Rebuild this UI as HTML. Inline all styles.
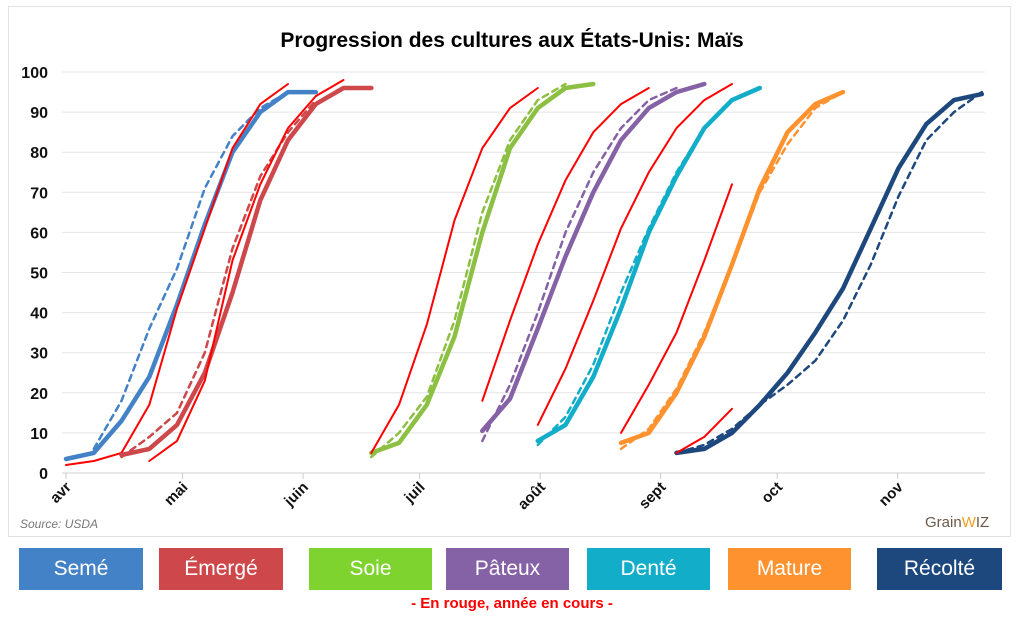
<!DOCTYPE html>
<html><head><meta charset="utf-8"><style>
body{margin:0;background:#fff;width:1024px;height:621px;overflow:hidden;font-family:"Liberation Sans",sans-serif}
#card{position:absolute;left:8px;top:6px;width:1003px;height:531px;border:1px solid #e2e2e2;box-sizing:border-box}
.lg{position:absolute;top:548px;height:42px;color:#fff;font-size:21px;display:flex;align-items:center;justify-content:center;font-family:"Liberation Sans Narrow","Liberation Sans",sans-serif}
</style></head><body>
<div id="card"></div>
<svg id="chart" width="1024" height="540" style="position:absolute;left:0;top:0">
<text x="512" y="47" text-anchor="middle" font-size="21" font-weight="bold" fill="#000">Progression des cultures aux États-Unis: Maïs</text>
<g id="grid"></g><g id="series"></g>
<text x="20" y="528" font-size="12" font-style="italic" fill="#777">Source: USDA</text>
<text x="925" y="527" font-size="15" fill="#6b5a48">Grain<tspan fill="#f0a020">W</tspan>IZ</text>
</svg>
<div class="lg" style="left:19px;width:124px;background:#4382c6">Semé</div>
<div class="lg" style="left:159px;width:124px;background:#cd474b">Émergé</div>
<div class="lg" style="left:309px;width:123px;background:#7ed32f">Soie</div>
<div class="lg" style="left:446px;width:123px;background:#8561a5">Pâteux</div>
<div class="lg" style="left:587px;width:123px;background:#12adc8">Denté</div>
<div class="lg" style="left:728px;width:123px;background:#fd922f">Mature</div>
<div class="lg" style="left:877px;width:125px;background:#1d487e">Récolté</div>
<div style="position:absolute;top:595px;left:0;width:1024px;text-align:center;color:#f00;font-size:15px;font-weight:bold">- En rouge, année en cours -</div>
<script>
const yTicks=[0,10,20,30,40,50,60,70,80,90,100];
const months=["avr","mai","juin","juil","août","sept","oct","nov"];
const monthDays=[0,30,61,91,122,153,183,214];
// weekly series: start week index (from Apr 1) and values
const semeStart=0, semeVals=[3.5,5,13,24,42,62,80,90,95,95];
const semeAvgStart=1, semeAvgVals=[6,18,36,51,71,84,91,95];
const semeCurStart=0, semeCurVals=[2,3,5,17,41,61,81,92,97];
const emStart=2, emVals=[4.5,6,12,25,45,68,83,92,96,96];
const emAvgStart=2, emAvgVals=[4,9,15,30,56,74,85,93];
const emCurStart=3, emCurVals=[3,8,23,53,72,86,94,98];
const soStart=11, soVals=[5,7.5,17,34,60,81,91,96,97];
const soAvgStart=11, soAvgVals=[4,10,19,38,65,83,93,97];
const soCurStart=11, soCurVals=[5,17,37,63,81,91,96];
const paStart=15, paVals=[10.5,18.5,36,54,70,83,91,95,97];
const paAvgStart=15, paAvgVals=[8,22,40,60,75,86,93,96];
const paCurStart=15, paCurVals=[18,38,57,73,85,92,96];
const deStart=17, deVals=[8,12,24,41,60,74,86,93,96];
const deAvgStart=17, deAvgVals=[7,14,27,45,61,75,86];
const deCurStart=17, deCurVals=[12,26,43,61,75,86,93,97];
const maStart=20, maVals=[7.5,10,20,34,52,71,85,92,95];
const maAvgStart=20, maAvgVals=[6,11,21,35,52,70,82,91,95];
const maCurStart=20, maCurVals=[10,22,35,53,72];
const reStart=22, reVals=[5,6,10,17,25,35,46,61,76,87,93,94.5];
const reAvgStart=22, reAvgVals=[5,7,11,17,22,28,38,52,69,83,90,95];
const reCurStart=22, reCurVals=[5,9,16];

const X0=66, WK=27.75;
const xW=w=>X0+w*WK;
const xD=d=>X0+d*WK/7.14;
const yV=v=>473-v*4.01;
const NS="http://www.w3.org/2000/svg";
const grid=document.getElementById('grid'), ser=document.getElementById('series');
function mk(tag,attrs,parent){const e=document.createElementNS(NS,tag);for(const k in attrs)e.setAttribute(k,attrs[k]);parent.appendChild(e);return e;}
yTicks.forEach(v=>{
  const l=mk('line',{x1:62,x2:985,y1:yV(v),y2:yV(v),stroke:v===0?'#d0d0d0':'#e4e4e4','stroke-width':1},grid);
  
  
  const t=mk('text',{x:48,y:yV(v)+6,'text-anchor':'end','font-size':16,'font-weight':'bold',fill:'#111'},grid);
  t.textContent=v;
  
  
});
months.forEach((m,i)=>{
  const x=xD(monthDays[i]);
  const tk=mk('line',{x1:x,x2:x,y1:473,y2:479,stroke:'#ccc'},grid);
  
  
  const t=mk('text',{x:x+6,y:488,'text-anchor':'end','font-size':15,'font-weight':'bold',fill:'#111',transform:`rotate(-45 ${x+6} 488)`},grid);
  t.textContent=m;
  
  
});
function line(start,vals,color,w,dash,name){
  const pts=vals.map((v,i)=>xW(start+i).toFixed(1)+','+yV(v).toFixed(1)).join(' ');
  const p=mk('polyline',{points:pts,fill:'none',stroke:color,'stroke-width':w,'stroke-linejoin':'round','stroke-linecap':'round'},ser);
  if(dash)p.setAttribute('stroke-dasharray',dash);
  
  
}
const defs=[
 [semeStart,semeVals,semeAvgStart,semeAvgVals,semeCurStart,semeCurVals,'#4382c6','seme'],
 [emStart,emVals,emAvgStart,emAvgVals,emCurStart,emCurVals,'#cd474b','emerge'],
 [soStart,soVals,soAvgStart,soAvgVals,soCurStart,soCurVals,'#8cc043','soie'],
 [paStart,paVals,paAvgStart,paAvgVals,paCurStart,paCurVals,'#8561a5','pateux'],
 [deStart,deVals,deAvgStart,deAvgVals,deCurStart,deCurVals,'#12adc8','dente'],
 [maStart,maVals,maAvgStart,maAvgVals,maCurStart,maCurVals,'#fd922f','mature'],
 [reStart,reVals,reAvgStart,reAvgVals,reCurStart,reCurVals,'#1d487e','recolte']
];
defs.forEach(d=>{
  line(d[2],d[3],d[6],2.5,'6,5',d[7]+'-avg-line');
  line(d[0],d[1],d[6],4.5,null,d[7]+'-last-year-line');
  line(d[4],d[5],'#ff0000',2,null,d[7]+'-current-year-line');
});
</script>
</body></html>
